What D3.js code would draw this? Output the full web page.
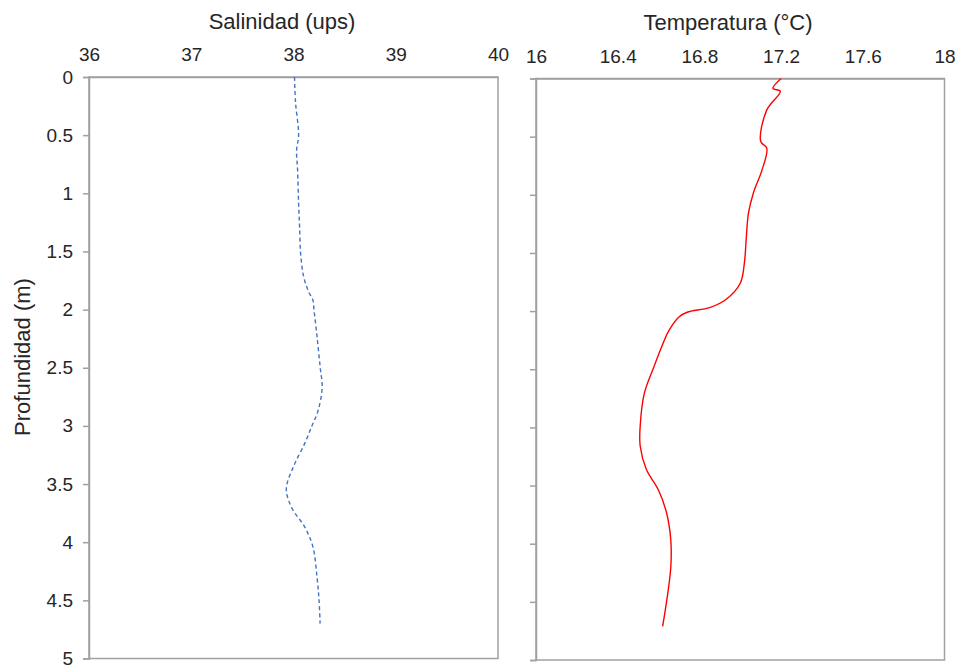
<!DOCTYPE html>
<html>
<head>
<meta charset="utf-8">
<script src="https://cdn.jsdelivr.net/npm/d3@7"></script>
<style>
  html, body { margin: 0; padding: 0; background: #fff; }
  svg { display: block; font-family: "Liberation Sans", Arial, sans-serif; }
</style>
</head>
<body>
<svg id="chart" width="960" height="667"></svg>
<script>
// ---- data ----
const salDepth = [0, 0.22, 0.5, 0.63, 0.8, 1.09, 1.3, 1.52, 1.72, 1.85, 1.92, 2.0, 2.23, 2.49, 2.67, 2.87, 3.0, 3.15, 3.35, 3.54, 3.70, 3.87, 4.04, 4.30, 4.50, 4.70];
const salinity = [38.01, 38.02, 38.05, 38.03, 38.04, 38.05, 38.06, 38.07, 38.10, 38.15, 38.19, 38.20, 38.23, 38.26, 38.28, 38.24, 38.18, 38.11, 38.00, 37.93, 37.98, 38.11, 38.19, 38.23, 38.25, 38.26];

const tempDepth = [0, 0.086, 0.11, 0.27, 0.54, 0.60, 0.79, 0.98, 1.16, 1.36, 1.59, 1.76, 1.90, 1.97, 2.01, 2.05, 2.17, 2.33, 2.49, 2.71, 2.99, 3.16, 3.36, 3.54, 3.74, 3.97, 4.20, 4.49, 4.71];
const temperature = [17.20, 17.16, 17.196, 17.13, 17.10, 17.13, 17.106, 17.065, 17.04, 17.03, 17.02, 17.0, 16.93, 16.85, 16.74, 16.70, 16.65, 16.61, 16.575, 16.53, 16.51, 16.51, 16.54, 16.60, 16.64, 16.66, 16.66, 16.64, 16.62];

const depthTicks = [0, 0.5, 1, 1.5, 2, 2.5, 3, 3.5, 4, 4.5, 5];
const salTicks = [36, 37, 38, 39, 40];
const tempTicks = [16, 16.4, 16.8, 17.2, 17.6, 18];

const salTitle = "Salinidad (ups)";
const tempTitle = "Temperatura (°C)";
const depthTitle = "Profundidad (m)";

// ---- drawing ----
const svg = d3.select("#chart");
const axisColor = "#a0a0a0";
const textColor = "#262626";

function panel(cfg) {
  const x = d3.scaleLinear().domain(cfg.xDomain).range([cfg.left, cfg.right]);
  const y = d3.scaleLinear().domain([0, 5]).range([cfg.top, cfg.bottom]);
  const g = svg.append("g");

  // plot frame
  g.append("rect")
    .attr("x", cfg.left).attr("y", cfg.top)
    .attr("width", cfg.right - cfg.left).attr("height", cfg.bottom - cfg.top)
    .attr("fill", "none").attr("stroke", axisColor).attr("stroke-width", 1.5);

  // left axis
  const yAxis = d3.axisLeft(y).tickValues(depthTicks).tickSize(6).tickPadding(10)
    .tickFormat(cfg.showYLabels ? d3.format("") : () => "");
  const ya = g.append("g").attr("transform", `translate(${cfg.left},0)`).call(yAxis);
  ya.select(".domain").attr("stroke", axisColor).attr("stroke-width", 1.5);
  ya.selectAll(".tick line").attr("stroke", axisColor).attr("stroke-width", 1.5);
  ya.selectAll(".tick text").attr("fill", textColor).style("font-size", "19px")
    .attr("x", -16);

  // top axis (labels only)
  const xAxis = d3.axisTop(x).tickValues(cfg.xTicks).tickSize(0).tickPadding(16)
    .tickFormat(d3.format(""));
  const xa = g.append("g").attr("transform", `translate(0,${cfg.top})`).call(xAxis);
  xa.select(".domain").attr("stroke", axisColor).attr("stroke-width", 1.5);
  xa.selectAll(".tick text").attr("fill", textColor).style("font-size", "19px");

  // title
  g.append("text")
    .attr("x", cfg.titleX).attr("y", cfg.titleY)
    .attr("text-anchor", "middle")
    .attr("fill", textColor).style("font-size", "22px")
    .text(cfg.title);

  // line
  const pts = cfg.depth.map((d, i) => [cfg.values[i], d]);
  const line = d3.line().x(p => x(p[0])).y(p => y(p[1])).curve(d3.curveCatmullRom.alpha(0.5));
  g.append("path")
    .attr("d", line(pts))
    .attr("fill", "none")
    .attr("stroke", cfg.color)
    .attr("stroke-width", cfg.width)
    .attr("stroke-dasharray", cfg.dash || null);
}

panel({
  xDomain: [36, 40], left: 89, right: 498, top: 77, bottom: 658.5,
  xTicks: salTicks, showYLabels: true, title: salTitle, titleX: 282, titleY: 29,
  depth: salDepth, values: salinity, color: "#4472C4", width: 1.4, dash: "4,3"
});

panel({
  xDomain: [16, 18], left: 536, right: 944.5, top: 78.5, bottom: 660,
  xTicks: tempTicks, showYLabels: false, title: tempTitle, titleX: 728, titleY: 30,
  depth: tempDepth, values: temperature, color: "#ff0000", width: 1.4
});

svg.append("text")
  .attr("transform", "translate(30,357) rotate(-90)")
  .attr("text-anchor", "middle")
  .attr("fill", textColor).style("font-size", "22px")
  .text(depthTitle);
</script>
</body>
</html>
